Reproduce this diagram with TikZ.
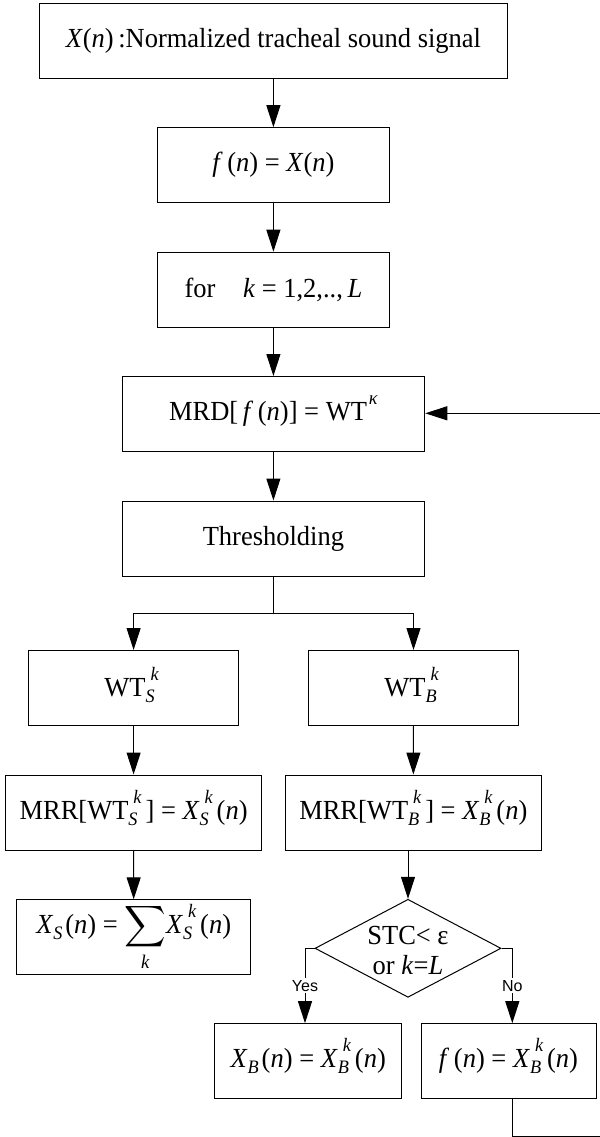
\documentclass[tikz,border=0pt]{standalone}
\usepackage{amsmath}
\usepackage{fontspec}
\setmainfont{Liberation Serif}[FakeStretch=0.96]
\newfontfamily\labelfont{Liberation Sans}
\usetikzlibrary{arrows.meta,shapes.geometric}
\newcommand\vi[1]{\textit{#1}}
\newcommand\scr{\fontsize{9.5}{9.5}\selectfont\itshape}
\newcommand\sx[2]{\rlap{\raisebox{-3pt}[0pt][0pt]{\scr #2}}\kern2.5pt\raisebox{8pt}[0pt][0pt]{\scr #1}\kern2pt}
\newcommand\sbx[1]{\raisebox{-3pt}[0pt][0pt]{\scr #1}\kern1.5pt}
\newcommand\spx[1]{\raisebox{8pt}[0pt][0pt]{\scr #1}}
\begin{document}
\begin{tikzpicture}[x=0.5pt,y=-0.5pt,
  box/.style={draw, line width=0.5pt, minimum height=37.5pt, inner sep=0pt, font=\fontsize{13.8}{16}\selectfont},
  arr/.style={-{Triangle[length=11pt,width=7pt]}, line width=0.5pt},
  ln/.style={line width=0.5pt},
  yn/.style={font=\labelfont\fontsize{8}{9}\selectfont, fill=white, inner sep=1pt}]
\useasboundingbox (0,0) rectangle (600,1137);
\clip (0,0) rectangle (600,1137);

\node[box, minimum width=234pt] (b1) at (273.4,40.7) {\vi{X}(\vi{n})\,:Normalized tracheal sound signal\hspace{10pt}};
\node[box, minimum width=116pt] (b2) at (273.4,165.2) {\vi{f}\,(\vi{n}) = \vi{X}(\vi{n})};
\node[box, minimum width=116pt] (b3) at (273.4,289.7) {for\quad \vi{k} = 1,2,..,\,\vi{L}};
\node[box, minimum width=151.35pt] (b4) at (273.4,414) {MRD[\,\vi{f}\,(\vi{n})] = WT\kern1pt\spx{κ}};
\node[box, minimum width=151.35pt] (b5) at (273.4,538.5) {Thresholding};
\coordinate (split) at (273.4,613.3);
\node[box, minimum width=105.25pt] (ws) at (133.6,688) {WT\sx{k}{S}};
\node[box, minimum width=105pt] (wb) at (413.5,688) {WT\sx{k}{B}};
\node[box, minimum width=128.2pt] (ms) at (133.6,812.5) {MRR[WT\sx{k}{S}] = \vi{X}\sx{k}{S}(\vi{n})};
\node[box, minimum width=127.8pt] (mb) at (413.3,812.5) {MRR[WT\sx{k}{B}] = \vi{X}\sx{k}{B}(\vi{n})};
\node[box, minimum width=117pt] (xs) at (133.7,937.3) {\vi{X}\sbx{S}(\vi{n}) = $\displaystyle\sum_{\vi{k}}$\vi{X}\sx{k}{S}(\vi{n})};
\node[draw, line width=0.5pt, diamond, minimum width=93pt, minimum height=49pt, inner sep=0pt] (dia) at (408,948.3) {};
\node[align=center, inner sep=0pt, font=\fontsize{13.8}{15}\selectfont] (diat) at (408,950) {STC< ε\\or \vi{k}=\vi{L}};
\node[box, minimum width=93.5pt] (xb) at (308.2,1061.2) {\vi{X}\sbx{B}(\vi{n}) = \vi{X}\sx{k}{B}(\vi{n})};
\node[box, minimum width=87.5pt] (fb) at (508.5,1061.2) {\vi{f}\,(\vi{n}) = \vi{X}\sx{k}{B}(\vi{n})};

\draw[arr] (b1) -- (b2);
\draw[arr] (b2) -- (b3);
\draw[arr] (b3) -- (b4);
\draw[arr] (b4) -- (b5);
\draw[ln] (b5.south) -- (split);
\draw[arr] (split) -| (ws.north);
\draw[arr] (split) -| (wb.north);
\draw[arr] (ws) -- (ms);
\draw[arr] (wb) -- (mb);
\draw[arr] (ms) -- (xs);
\draw[arr] (dia.north |- mb.south) -- (dia.north);
\coordinate (yesc) at (305,948.3);
\coordinate (noc) at (512.3,948.3);
\draw[arr] (dia.west) -- (yesc) -- (yesc |- xb.north) node[yn, pos=0.5] (yes) {Yes};
\draw[arr] (dia.east) -- (noc) -- (noc |- fb.north) node[yn, pos=0.5] (no) {No};
\coordinate (fb1) at (512,1136);
\coordinate (fb2) at (600.5,1136);
\coordinate (fb3) at (600.5,413.3);
\draw[arr] (fb1 |- fb.south) -- (fb1) -- (fb2) -- (fb3) -- (b4.east |- fb3);
\end{tikzpicture}
\end{document}
